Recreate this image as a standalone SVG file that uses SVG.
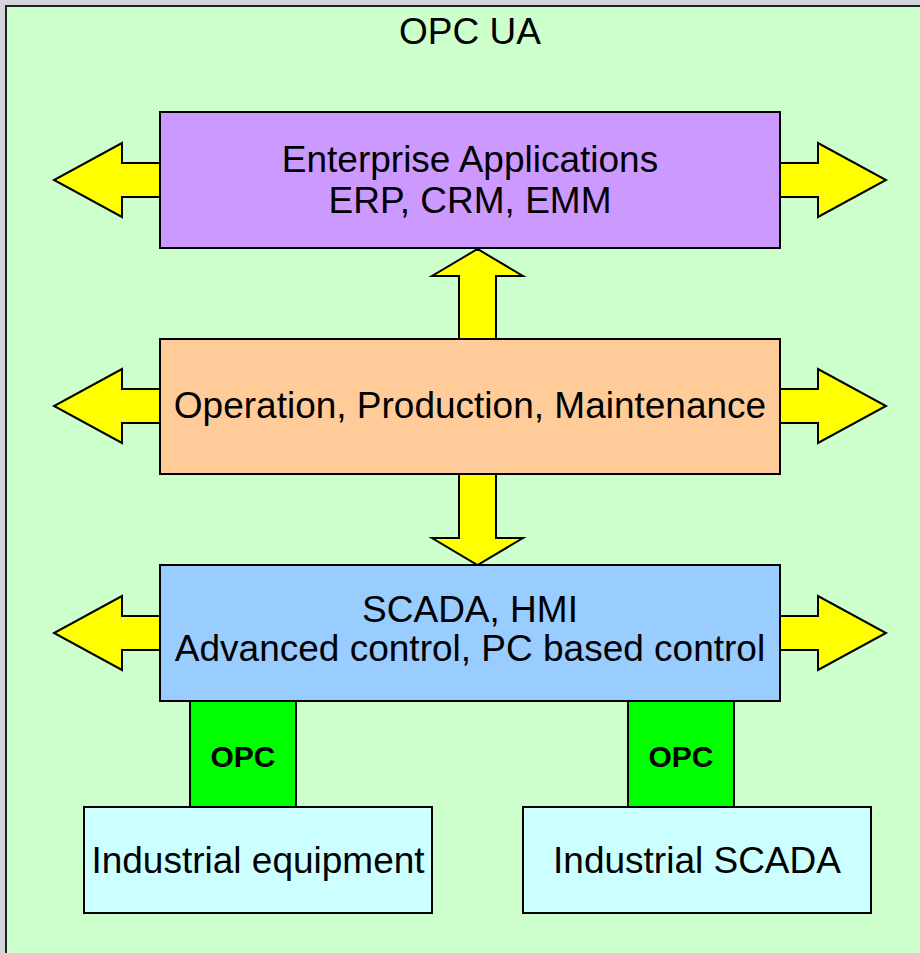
<svg xmlns="http://www.w3.org/2000/svg" width="920" height="953" viewBox="0 0 920 953">
  <style>
    .box { stroke: #000; stroke-width: 2; }
    .arrow { fill: #ffff00; stroke: #000; stroke-width: 2; stroke-linejoin: miter; }
    .lbl { font-family: "Liberation Sans", Arial, sans-serif; font-size: 37px; fill: #000; text-anchor: middle; }
    .opc { font-family: "Liberation Sans", Arial, sans-serif; font-size: 30px; font-weight: bold; fill: #000; text-anchor: middle; }
  </style>

  <!-- page background and OPC UA frame -->
  <rect x="0" y="0" width="920" height="953" fill="#d4d4dc"/>
  <g id="frame">
    <rect x="6" y="6" width="930" height="960" fill="#ccffcc" stroke="#222" stroke-width="2"/>
    <text class="lbl" x="470" y="44">OPC UA</text>
  </g>

  <!-- block arrows between and beside the layers -->
  <g id="connectors">
    <!-- enterprise row -->
    <polygon class="arrow" points="162,163 122,163 122,143 54,180 122,217 122,197 162,197"/>
    <polygon class="arrow" points="778,163 818,163 818,143 886,180 818,217 818,197 778,197"/>
    <!-- operation row -->
    <polygon class="arrow" points="162,389 122,389 122,369 54,406 122,443 122,423 162,423"/>
    <polygon class="arrow" points="778,389 818,389 818,369 886,406 818,443 818,423 778,423"/>
    <!-- scada row -->
    <polygon class="arrow" points="162,616 122,616 122,596 54,633 122,670 122,650 162,650"/>
    <polygon class="arrow" points="778,616 818,616 818,596 886,633 818,670 818,650 778,650"/>
    <!-- operation -> enterprise -->
    <polygon class="arrow" points="459,341 459,276 432,276 477.5,249 523,276 496,276 496,341"/>
    <!-- operation -> scada -->
    <polygon class="arrow" points="459,473 459,538 432,538 477.5,565 523,538 496,538 496,473"/>
  </g>

  <g id="enterprise">
    <rect class="box" x="160" y="112" width="620" height="136" fill="#cc99ff"/>
    <text class="lbl" x="470" y="172">Enterprise Applications</text>
    <text class="lbl" x="470" y="213">ERP, CRM, EMM</text>
  </g>

  <g id="operation">
    <rect class="box" x="160" y="339" width="620" height="135" fill="#ffcc99"/>
    <text class="lbl" x="470" y="418">Operation, Production, Maintenance</text>
  </g>

  <g id="scada">
    <rect class="box" x="160" y="565" width="620" height="136" fill="#99ccff"/>
    <text class="lbl" x="470" y="622">SCADA, HMI</text>
    <text class="lbl" x="470" y="661">Advanced control, PC based control</text>
  </g>

  <g id="opc-left">
    <rect class="box" x="190" y="701" width="106" height="106" fill="#00ff00"/>
    <text class="opc" x="243" y="767">OPC</text>
  </g>

  <g id="opc-right">
    <rect class="box" x="628" y="701" width="106" height="106" fill="#00ff00"/>
    <text class="opc" x="681" y="767">OPC</text>
  </g>

  <g id="industrial-equipment">
    <rect class="box" x="84" y="807" width="348" height="106" fill="#ccffff"/>
    <text class="lbl" x="258" y="873">Industrial equipment</text>
  </g>

  <g id="industrial-scada">
    <rect class="box" x="523" y="807" width="348" height="106" fill="#ccffff"/>
    <text class="lbl" x="697" y="873">Industrial SCADA</text>
  </g>
</svg>
